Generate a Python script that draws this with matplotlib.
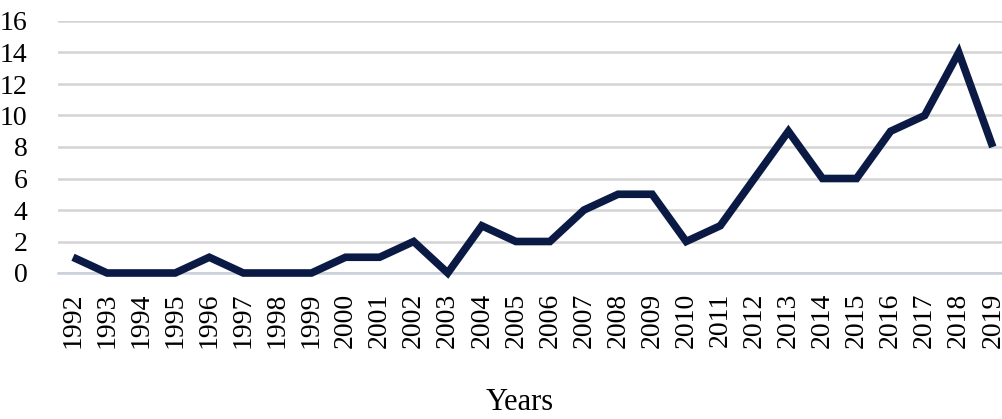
import matplotlib
matplotlib.use("Agg")
import matplotlib.pyplot as plt

years = [str(y) for y in range(1992, 2020)]
counts = [1, 0, 0, 0, 1, 0, 0, 0, 1, 1, 2, 0, 3, 2, 2, 4, 5, 5, 2, 3, 6, 9, 6, 6, 9, 10, 14, 8]
yticks = [0, 2, 4, 6, 8, 10, 12, 14, 16]

plt.rcParams['font.family'] = ['Liberation Serif', 'DejaVu Serif']

fig = plt.figure(figsize=(10.02, 4.19), dpi=100)
W, H = 1002, 419
ax = fig.add_axes([58 / W, 1 - 273 / H, (1002 - 58) / W, (273 - 21) / H])

x = list(range(len(years)))
ax.plot(x, counts, color='#0b1a45', lw=5.5, solid_joinstyle='miter', solid_capstyle='butt',
        clip_on=False, zorder=3)

ax.set_ylim(0, 16)
ax.set_xlim(-0.44, 27.27)
ax.set_yticks(yticks)
ax.set_yticklabels([str(v) for v in yticks], fontsize=20)
ax.set_xticks(x)
ax.set_xticklabels(years, rotation=90, fontsize=20)
ax.tick_params(axis='both', length=0)
ax.tick_params(axis='y', pad=22)
ax.tick_params(axis='x', pad=14)

ax.grid(axis='y', color='#d4d4d4', lw=1.8)
ax.set_axisbelow(True)
for s in ['top', 'right', 'left']:
    ax.spines[s].set_visible(False)
ax.spines['bottom'].set_color('#c8d0dc')
ax.spines['bottom'].set_linewidth(1.8)

fig.text(520 / W, 1 - 402 / H, 'Years', ha='center', va='center', fontsize=22)

fig.savefig('out.png', dpi=100)
